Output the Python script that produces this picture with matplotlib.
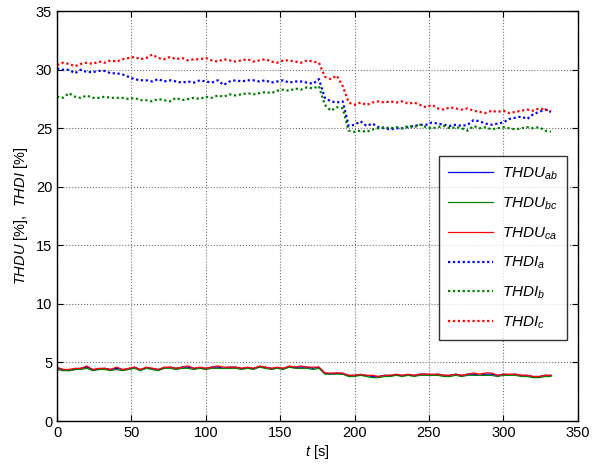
import numpy as np
import matplotlib
matplotlib.use("Agg")
import matplotlib.pyplot as plt

plt.rcParams['font.family'] = ['Liberation Sans', 'DejaVu Sans']
plt.rcParams['mathtext.fontset'] = 'custom'
plt.rcParams['mathtext.rm'] = 'Liberation Sans'
plt.rcParams['mathtext.it'] = 'Liberation Sans:italic'

# time axis, one sample every 4 s
t = np.arange(0, 336, 4)

# voltage THD [%]
thdu_ab = [4.5, 4.4, 4.3, 4.4, 4.5, 4.6, 4.4, 4.4,
           4.5, 4.4, 4.5, 4.4, 4.4, 4.6, 4.4, 4.5,
           4.5, 4.4, 4.5, 4.6, 4.5, 4.6, 4.6, 4.5,
           4.5, 4.5, 4.6, 4.6, 4.5, 4.6, 4.6, 4.5,
           4.5, 4.5, 4.6, 4.6, 4.5, 4.5, 4.5, 4.6,
           4.6, 4.6, 4.6, 4.5, 4.6, 4.1, 4.0, 4.1,
           4.0, 3.9, 3.9, 3.9, 3.9, 3.8, 3.8, 3.9,
           3.9, 3.9, 3.9, 3.9, 3.9, 4.0, 4.0, 3.9,
           4.0, 3.9, 3.9, 4.0, 3.9, 4.0, 4.0, 3.9,
           4.0, 4.0, 3.9, 4.0, 3.9, 4.0, 3.9, 3.9,
           3.8, 3.8, 3.9, 3.9]
thdu_bc = [4.4, 4.3, 4.3, 4.4, 4.4, 4.5, 4.3, 4.4,
           4.4, 4.3, 4.4, 4.3, 4.4, 4.5, 4.3, 4.5,
           4.4, 4.3, 4.5, 4.5, 4.4, 4.5, 4.5, 4.4,
           4.5, 4.4, 4.5, 4.5, 4.5, 4.5, 4.5, 4.4,
           4.5, 4.4, 4.6, 4.5, 4.4, 4.5, 4.4, 4.6,
           4.5, 4.5, 4.5, 4.4, 4.5, 4.0, 4.0, 4.0,
           4.0, 3.8, 3.8, 3.9, 3.8, 3.7, 3.7, 3.8,
           3.8, 3.9, 3.8, 3.9, 3.8, 3.9, 3.9, 3.9,
           3.9, 3.8, 3.8, 3.9, 3.8, 3.9, 3.9, 3.9,
           3.9, 3.9, 3.8, 3.9, 3.9, 3.9, 3.8, 3.8,
           3.7, 3.7, 3.8, 3.8]
thdu_ca = [4.6, 4.4, 4.4, 4.5, 4.5, 4.7, 4.4, 4.5,
           4.5, 4.4, 4.6, 4.4, 4.5, 4.6, 4.4, 4.6,
           4.5, 4.4, 4.6, 4.6, 4.5, 4.6, 4.7, 4.5,
           4.6, 4.5, 4.6, 4.7, 4.6, 4.6, 4.6, 4.5,
           4.6, 4.5, 4.7, 4.6, 4.5, 4.6, 4.5, 4.7,
           4.6, 4.7, 4.6, 4.6, 4.6, 4.1, 4.1, 4.1,
           4.1, 3.9, 3.9, 4.0, 3.9, 3.9, 3.8, 3.9,
           3.9, 4.0, 3.9, 4.0, 3.9, 4.0, 4.0, 4.0,
           4.0, 3.9, 3.9, 4.0, 3.9, 4.0, 4.1, 4.0,
           4.1, 4.1, 3.9, 4.0, 4.0, 4.0, 3.9, 3.9,
           3.8, 3.8, 3.9, 3.9]

# current THD [%]
thdi_a = [30.1, 30.0, 30.0, 29.7, 30.0, 29.8, 29.8, 29.9,
          29.9, 29.7, 29.7, 29.6, 29.4, 29.2, 29.1, 29.1,
          29.0, 29.2, 29.0, 29.1, 29.0, 28.9, 29.0, 28.9,
          29.1, 29.0, 28.9, 29.1, 28.7, 29.0, 29.1, 29.0,
          29.1, 29.1, 29.0, 29.1, 28.9, 29.0, 29.1, 28.9,
          29.0, 29.0, 28.9, 28.8, 29.2, 27.6, 27.3, 27.2,
          27.3, 25.2, 25.3, 25.6, 25.2, 25.4, 25.1, 25.0,
          24.9, 25.0, 25.0, 25.1, 25.2, 25.3, 25.3, 25.5,
          25.4, 25.3, 25.2, 25.3, 25.2, 25.3, 25.7, 25.6,
          25.4, 25.3, 25.4, 25.5, 25.8, 25.9, 26.0, 25.8,
          26.2, 26.4, 26.6, 26.4]
thdi_b = [27.7, 27.6, 28.0, 27.7, 27.6, 27.8, 27.6, 27.6,
          27.7, 27.6, 27.6, 27.6, 27.5, 27.6, 27.4, 27.4,
          27.3, 27.5, 27.4, 27.3, 27.6, 27.4, 27.5, 27.6,
          27.5, 27.7, 27.6, 27.8, 27.7, 27.9, 27.8, 27.9,
          28.0, 27.9, 28.0, 28.1, 28.0, 28.2, 28.3, 28.2,
          28.4, 28.3, 28.5, 28.4, 28.6, 27.0, 26.5, 26.8,
          26.7, 24.8, 24.7, 24.8, 24.7, 24.9, 25.0, 25.1,
          25.0, 25.1, 25.0, 25.2, 25.1, 25.3, 25.1, 25.0,
          25.1, 25.2, 25.0, 25.1, 25.0, 24.8, 25.2, 25.0,
          25.1, 24.9, 25.0, 25.1, 25.0, 24.9, 25.0, 25.1,
          25.0, 25.1, 24.8, 24.7]
thdi_c = [30.4, 30.6, 30.5, 30.3, 30.5, 30.6, 30.5, 30.7,
          30.6, 30.8, 30.7, 30.9, 31.0, 31.1, 30.9, 31.0,
          31.3, 31.0, 30.9, 31.1, 30.9, 31.0, 30.8, 30.9,
          30.9, 31.0, 30.8, 30.7, 30.9, 30.8, 30.7, 30.8,
          30.9, 30.7, 30.8, 30.9, 30.7, 30.6, 30.8, 30.8,
          30.7, 30.6, 30.8, 30.7, 30.6, 29.4, 29.2, 29.5,
          28.6, 27.2, 27.0, 27.2, 27.0, 27.2, 27.3, 27.2,
          27.3, 27.2, 27.3, 27.1, 27.2, 27.0, 26.8, 27.0,
          26.7, 26.6, 26.8, 26.7, 26.6, 26.7, 26.5, 26.4,
          26.3, 26.5, 26.4, 26.5, 26.3, 26.4, 26.5, 26.6,
          26.5, 26.7, 26.6, 26.5]

blue = (0, 0, 1)
green = (0, 0.5, 0)
red = (1, 0, 0)
dots = (0, (1.0, 1.2))

fig = plt.figure(figsize=(5.92, 4.67), dpi=100)
ax = fig.add_axes([0.0963, 0.0985, 0.8797, 0.8775])

ax.plot(t, thdu_ab, color=blue, lw=0.9, label=r'$THDU_{ab}$')
ax.plot(t, thdu_bc, color=green, lw=0.9, label=r'$THDU_{bc}$')
ax.plot(t, thdu_ca, color=red, lw=0.9, label=r'$THDU_{ca}$')
ax.plot(t, thdi_a, color=blue, lw=1.6, ls=dots, label=r'$THDI_{a}$')
ax.plot(t, thdi_b, color=green, lw=1.6, ls=dots, label=r'$THDI_{b}$')
ax.plot(t, thdi_c, color=red, lw=1.6, ls=dots, label=r'$THDI_{c}$')

ax.set_xlim(0, 350)
ax.set_ylim(0, 35)
ax.set_xticks(np.arange(0, 351, 50))
ax.set_yticks(np.arange(0, 36, 5))
ax.tick_params(direction='in', top=True, right=True, length=4, labelsize=10.5)
ax.grid(True, color='0.45', ls=':', lw=0.8)
for s in ax.spines.values():
    s.set_linewidth(1.0)

ax.set_xlabel(r'$t$ [s]', fontsize=10.5, labelpad=2)
ax.set_ylabel(r'$THDU$ [%],  $THDI$ [%]', fontsize=10.5, labelpad=4)

leg = ax.legend(loc='upper right', bbox_to_anchor=(0.979, 0.646), fontsize=11,
                frameon=True, fancybox=False, edgecolor='black',
                labelspacing=0.88, handlelength=2.9, borderpad=0.6,
                handletextpad=0.6, borderaxespad=0)
leg.get_frame().set_linewidth(1.0)

fig.savefig('out.png', dpi=100)
